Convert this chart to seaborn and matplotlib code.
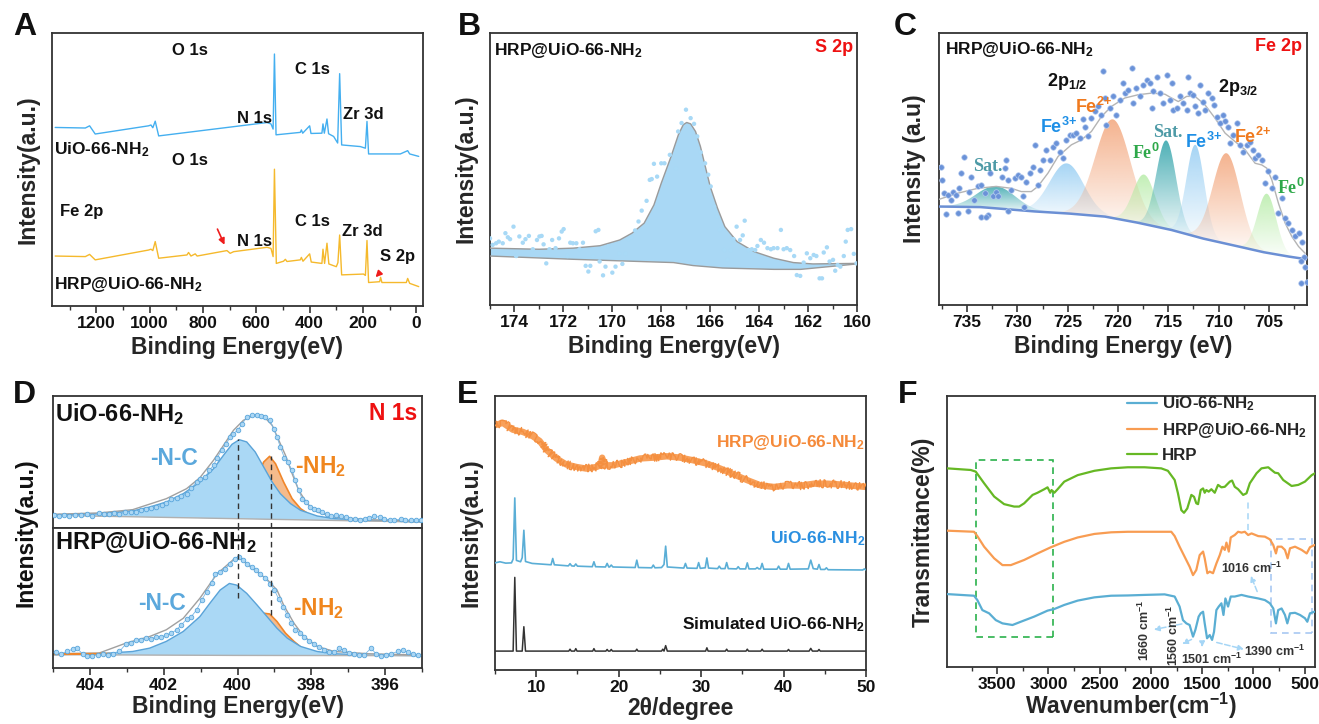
import numpy as np
import matplotlib
matplotlib.use("Agg")
import matplotlib.pyplot as plt
import seaborn as sns
from matplotlib.colors import to_rgb
from matplotlib.patches import Rectangle
from matplotlib.ticker import MultipleLocator

# ---------------- A: XPS survey ----------------
a_uio_ev = [1354, 1241, 1225, 1204, 1004, 995, 988, 979, 966, 560, 545, 537, 532, 526, 435, 431, 426, 400, 395,
            354, 350, 345, 335, 329, 310, 295, 287.5, 280, 210, 191, 185, 179, 60, 32.5, 25, -9]
a_uio_int = [65.4, 65.2, 66.0, 63.0, 66.0, 66.3, 65.3, 67.7, 62.3, 67.2, 66.7, 64.8, 92.3, 62.7, 63.6, 64.5, 63.3,
             66.0, 63.2, 63.3, 66.7, 63.3, 68.5, 63.1, 62.1, 59.7, 85.1, 59.0, 58.4, 57.8, 67.6, 55.7, 55.7, 56.9,
             55.7, 54.8]
a_hrp_ev = [1354, 1241, 1225, 1204, 1004, 995, 988, 979, 966, 860, 854, 845, 829, 822, 710, 698, 685, 560, 545, 537,
            532, 525, 498, 491, 485, 435, 431, 425, 400, 394, 354, 350, 344, 335, 328, 300, 294, 287.5, 280, 198,
            191, 185, 179, 137.5, 134, 129, 37.5, 32.5, 25, -9]
a_hrp_int = [18.3, 18.1, 18.9, 16.9, 20.5, 20.8, 20.3, 23.6, 17.5, 18.7, 19.6, 18.3, 19.1, 18.3, 20.3, 19.3, 19.9,
             21.5, 21.1, 18.1, 50.1, 15.6, 16.4, 17.1, 16.3, 16.9, 17.8, 16.4, 19.1, 16.1, 15.6, 20.8, 15.6, 23.0,
             15.4, 14.4, 15.9, 26.0, 11.4, 11.7, 11.2, 24.0, 8.6, 8.9, 10.5, 8.6, 8.6, 10.1, 8.3, 7.1]

# ---------------- B: S 2p ----------------
b_env_ev = [175.0, 173.0, 171.6, 170.5, 169.7, 169.2, 168.7, 168.3, 168.0, 167.6, 167.3, 167.1, 166.96, 166.8,
            166.6, 166.4, 166.2, 166.0, 165.7, 165.4, 164.9, 164.2, 163.4, 162.6, 161.8, 160.0]
b_env_int = [20.9, 20.5, 20.9, 21.8, 23.9, 26.4, 30.1, 36.8, 44.8, 54.6, 62.6, 66.3, 67.1, 66.6, 63.8, 58.3, 50.9,
             43.6, 35.6, 28.8, 23.3, 19.6, 17.2, 15.6, 15.1, 15.3]
b_bg_ev = [175.0, 171.6, 168.9, 167.5, 166.7, 165.5, 163.4, 162.3, 160.0]
b_bg_int = [18.0, 16.8, 16.0, 15.6, 14.5, 13.6, 13.1, 13.1, 15.1]
b_dot_ev = [175.0, 174.89, 174.75, 174.64, 174.48, 174.37, 174.27, 174.18, 174.04, 173.93,
            173.80, 173.66, 173.55, 173.41, 173.25, 173.08, 172.98, 172.89, 172.81, 172.70,
            172.57, 172.46, 172.32, 172.18, 172.07, 171.99, 171.83, 171.72, 171.61, 171.47,
            171.34, 171.20, 171.09, 170.98, 170.90, 170.79, 170.68, 170.57, 170.52, 170.38,
            170.28, 170.17, 170.0, 169.87, 169.72, 169.59, 169.45, 169.34, 169.23, 169.07,
            168.93, 168.80, 168.60, 168.47, 168.39, 168.30, 168.17, 168.0, 167.87, 167.65,
            167.40, 167.31, 167.17, 166.99, 166.80, 166.66, 166.53, 166.39, 166.21, 166.08,
            165.98, 165.84, 165.73, 165.60, 165.43, 165.30, 165.16, 165.05, 164.92, 164.78,
            164.67, 164.59, 164.44, 164.30, 164.16, 164.07, 163.93, 163.80, 163.66, 163.52,
            163.41, 163.25, 163.11, 163.0, 162.87, 162.73, 162.57, 162.46, 162.32, 162.18,
            162.05, 161.91, 161.77, 161.66, 161.53, 161.43, 161.36, 161.23, 161.12, 160.98,
            160.89, 160.79, 160.68, 160.54, 160.46, 160.38, 160.24, 160.13, 160.02]
b_dot_int = [24.5, 22.1, 22.7, 23.3, 22.7, 26.4, 24.9, 24.2, 28.8, 18.0,
             25.2, 22.9, 24.2, 25.4, 20.5, 23.9, 25.2, 25.4, 22.3, 15.3,
             20.5, 23.9, 20.9, 24.5, 27.0, 27.9, 18.0, 22.9, 22.7, 22.7,
             20.5, 22.9, 14.4, 12.3, 14.4, 17.8, 27.1, 27.6, 16.0, 10.9,
             14.1, 21.5, 11.9, 14.1, 19.0, 15.1, 18.8, 24.2, 24.9, 27.4,
             30.7, 34.7, 38.3, 46.0, 46.3, 51.9, 47.2, 52.1, 52.1, 55.2,
             50.3, 63.8, 66.9, 71.8, 68.7, 66.6, 62.0, 56.1, 52.1, 47.9,
             43.6, 36.2, 32.5, 27.6, 20.2, 16.6, 20.0, 24.2, 28.8, 23.9,
             25.6, 31.0, 20.2, 20.5, 20.2, 21.7, 23.9, 22.9, 20.9, 20.5,
             20.9, 20.9, 27.6, 20.5, 20.9, 20.2, 18.0, 11.0, 10.7, 15.6,
             19.0, 17.2, 18.4, 18.0, 9.8, 9.8, 19.3, 21.2, 16.0, 16.6,
             12.6, 14.7, 14.1, 18.0, 23.3, 27.6, 27.9, 18.8, 15.3]

# ---------------- C: Fe 2p ----------------
c_bg_ev = [737.8, 733.7, 728.3, 724.8, 721.3, 718.1, 714.7, 711.5, 708.0, 705.5, 703.0, 701.2]
c_bg_int = [36.2, 36.0, 34.4, 33.6, 32.5, 30.3, 27.6, 24.4, 21.5, 19.4, 17.8, 16.8]
c_env_ev = [737.92, 735.93, 733.94, 732.11, 730.61, 729.62, 728.62, 727.96, 726.96, 725.96, 724.63, 723.64,
            722.64, 721.64, 720.65, 719.32, 717.99, 716.66, 715.33, 714.67, 714.00, 713.17, 712.34, 711.35,
            710.35, 709.35, 708.36, 707.36, 706.36, 705.70, 705.20, 704.70, 704.04, 703.37, 702.71, 702.04,
            701.38]
c_env_int = [38.7, 41.1, 42.9, 43.6, 42.9, 41.7, 41.7, 43.6, 48.5, 54.6, 58.9, 60.7, 63.8, 69.3, 73.0, 76.1, 77.3,
             77.9, 77.5, 76.1, 74.8, 76.7, 76.7, 73.6, 68.7, 63.2, 60.1, 57.1, 52.1, 51.5, 50.3, 46.0, 37.4, 30.1,
             25.2, 21.5, 19.0]
# fitted components: centre (eV), height above background, FWHM (eV)
c_peak_names = ["Sat.", "Fe3+", "Fe2+", "Fe0", "Sat.", "Fe3+", "Fe2+", "Fe0"]
c_peak_center = [732.1, 725.1, 720.5, 717.4, 715.2, 712.3, 709.2, 705.2]
c_peak_height = [8.1, 18.4, 36.3, 18.2, 32.5, 33.7, 33.3, 21.7]
c_peak_fwhm = [4.5, 4.0, 4.1, 2.6, 2.3, 2.1, 3.2, 2.2]
c_dot_ev = [737.59, 737.52, 737.26, 736.93, 736.59, 736.43, 736.10, 735.86, 735.60, 735.27,
            734.77, 734.60, 734.27, 733.94, 733.60, 733.27, 732.94, 732.77, 732.44, 732.11,
            731.94, 731.54, 731.28, 731.11, 730.95, 730.61, 730.28, 729.95, 729.68, 729.45,
            729.12, 728.79, 728.46, 728.29, 727.96, 727.79, 727.46, 727.13, 726.79, 726.46,
            726.13, 725.80, 725.47, 725.13, 724.80, 724.47, 724.14, 723.80, 723.47, 723.31,
            722.97, 722.64, 722.31, 721.98, 721.64, 721.48, 721.31, 721.15, 720.81, 720.48,
            720.15, 719.82, 719.49, 719.32, 718.99, 718.65, 718.49, 718.16, 717.82, 717.49,
            717.16, 716.83, 716.66, 716.50, 716.16, 715.83, 715.50, 715.17, 714.83, 714.67,
            714.50, 714.17, 713.84, 713.50, 713.17, 713.01, 712.84, 712.51, 712.34, 712.01,
            711.84, 711.51, 711.35, 711.01, 710.68, 710.42, 710.18, 709.85, 709.52, 709.35,
            709.02, 708.85, 708.52, 708.19, 707.86, 707.52, 707.19, 706.86, 706.53, 706.36,
            706.03, 705.70, 705.37, 705.03, 704.70, 704.37, 704.04, 703.70, 703.37, 703.04,
            702.71, 702.38, 702.04, 701.71, 701.54, 701.38, 701.21,
            737.1, 735.9, 734.9, 733.6, 730.9, 729.3, 733.1, 701.8, 701.8]
c_dot_int = [50.7, 46.0, 41.1, 40.5, 38.7, 41.7, 40.5, 42.9, 48.5, 54.4,
             41.7, 47.2, 38.7, 43.6, 44.2, 41.1, 33.1, 48.5, 39.9, 41.7,
             39.9, 47.2, 50.3, 53.4, 46.0, 42.3, 46.6, 47.9, 47.2, 39.9,
             45.4, 48.5, 50.9, 58.9, 44.2, 49.7, 53.4, 57.1, 53.4, 58.0,
             59.5, 56.4, 54.0, 60.7, 62.6, 62.6, 63.4, 61.3, 68.3, 65.6,
             62.0, 68.7, 71.2, 73.0, 69.9, 85.9, 76.1, 66.3, 72.4, 76.7,
             69.9, 75.5, 81.6, 77.9, 79.1, 87.1, 74.2, 79.8, 76.7, 81.0,
             82.8, 81.6, 72.4, 78.5, 84.0, 77.9, 74.2, 84.7, 75.5, 81.6,
             71.8, 72.4, 76.7, 74.2, 71.8, 84.0, 77.9, 77.3, 73.0, 70.6,
             81.0, 74.8, 71.8, 77.9, 76.1, 73.6, 69.3, 66.9, 69.9, 67.5,
             65.6, 59.5, 62.6, 66.9, 58.9, 56.4, 58.9, 60.1, 57.1, 54.0,
             55.2, 53.4, 44.8, 49.1, 42.9, 47.2, 33.7, 39.3, 31.9, 30.1,
             27.6, 25.2, 26.4, 23.3, 17.8, 14.1, 8.6,
             33.5, 34.0, 34.4, 32.5, 34.4, 36.0, 32.5, 16.0, 8.0]

# ---------------- D: N 1s ----------------
d1_bg_ev = [405.02, 400.11, 394.97]
d1_bg_int = [9.6, 7.1, 4.5]
d1_nc_ev = [405.02, 403.75, 402.84, 402.38, 401.93, 401.47, 401.02, 400.65, 400.38, 400.15, 399.95, 399.75, 399.52,
            399.29, 399.06, 398.84, 398.56, 398.29, 397.84, 397.38, 396.47, 394.97]
d1_nc_int = [9.6, 10.9, 12.9, 15.9, 19.7, 26.0, 34.8, 44.9, 55.1, 63.4, 66.9, 65.2, 57.6, 46.2, 34.8, 26.0, 18.4,
             13.4, 9.1, 7.1, 5.8, 4.5]
d1_nh_ev = [400.11, 399.75, 399.47, 399.29, 399.13, 398.97, 398.75, 398.52, 398.29, 398.02, 397.65]
d1_nh_int = [7.6, 17.2, 38.6, 50.0, 54.3, 48.7, 34.8, 22.2, 14.6, 9.6, 7.1]
d1_env_ev = [405.02, 403.75, 402.84, 401.93, 401.38, 401.02, 400.65, 400.38, 400.11, 399.84, 399.56, 399.29,
             399.06, 398.88, 398.70, 398.52, 398.34, 398.11, 397.84, 397.38, 396.47, 394.97]
d1_env_int = [10.4, 11.4, 13.9, 22.2, 29.8, 38.1, 51.3, 62.6, 74.0, 81.6, 85.4, 84.6, 77.8, 66.4, 55.1, 41.2, 28.5,
              18.4, 12.1, 8.3, 6.3, 5.3]
d1_dot_ev = [404.97, 404.84, 404.70, 404.56, 404.40, 404.25, 404.09, 403.93, 403.75, 403.61, 403.47, 403.34,
             403.20, 403.04, 402.88, 402.75, 402.61, 402.47, 402.34, 402.20, 402.04, 401.93, 401.79, 401.65,
             401.52, 401.38, 401.25, 401.11, 401.02, 400.88, 400.76, 400.65, 400.55, 400.43, 400.31, 400.20,
             400.11, 400.0, 399.88, 399.75, 399.61, 399.47, 399.36, 399.25, 399.13, 399.02, 398.93, 398.84,
             398.73, 398.64, 398.52, 398.43, 398.34, 398.25, 398.15, 398.04, 397.93, 397.82, 397.70, 397.58,
             397.47, 397.34, 397.20, 397.06, 396.95, 396.82, 396.67, 396.55, 396.43, 396.29, 396.15, 396.02,
             395.88, 395.75, 395.58, 395.45, 395.31, 395.15, 395.04]
d1_dot_int = [9.6, 9.3, 9.8, 9.1, 10.1, 9.6, 10.4, 9.3, 11.4, 10.9, 10.4, 11.4,
              10.9, 11.9, 12.4, 12.1, 13.4, 14.4, 15.4, 15.9, 17.4, 18.9, 22.2, 23.0,
              24.0, 26.0, 30.6, 34.8, 37.4, 38.6, 43.7, 47.5, 53.3, 58.8, 63.4, 68.9,
              71.5, 74.0, 78.5, 84.1, 85.4, 85.9, 85.1, 84.1, 81.6, 75.3, 68.9, 61.4,
              53.3, 50.0, 43.7, 36.1, 28.5, 22.2, 19.7, 15.9, 14.6, 13.4, 12.1, 10.4,
              8.8, 9.8, 8.8, 8.3, 6.6, 7.1, 6.3, 7.1, 7.8, 8.8, 8.3, 6.8,
              6.3, 5.8, 6.8, 6.3, 5.8, 6.3, 5.8]

d2_bg_ev = [405.02, 400.11, 394.97]
d2_bg_int = [9.5, 9.0, 8.8]
d2_nc_ev = [405.02, 403.75, 402.84, 402.38, 401.93, 401.47, 401.02, 400.75, 400.47, 400.22, 400.02, 399.75, 399.47,
            399.20, 398.93, 398.65, 398.29, 397.84, 397.38, 396.47, 394.97]
d2_nc_int = [9.5, 10.2, 11.8, 14.2, 19.0, 26.1, 36.7, 46.2, 55.7, 60.4, 59.2, 53.3, 45.0, 36.7, 28.4, 21.3, 15.4,
             11.8, 10.2, 9.2, 8.8]
d2_nh_ev = [400.11, 399.75, 399.47, 399.29, 399.13, 398.93, 398.70, 398.47, 398.25, 397.93, 397.56]
d2_nh_int = [10.2, 20.1, 35.5, 39.1, 38.6, 33.2, 24.9, 19.0, 14.2, 10.7, 9.5]
d2_nh_tail_ev = [405.0, 403.47]
d2_nh_tail_int = [9.9, 10.2]
d2_env_ev = [405.02, 403.75, 403.02, 402.38, 401.93, 401.47, 401.02, 400.56, 400.11, 399.93, 399.65, 399.20,
             398.93, 398.75, 398.47, 398.20, 397.84, 397.38, 396.47, 394.97]
d2_env_int = [10.2, 10.7, 17.8, 22.5, 27.3, 35.5, 49.8, 67.1, 77.5, 78.2, 72.3, 63.3, 55.7, 45.0, 32.0, 22.5, 15.4,
              11.8, 10.2, 9.2]
d2_dot_ev = [404.93, 404.79, 404.61, 404.47, 404.36, 404.20, 404.09, 403.95, 403.79, 403.65, 403.52, 403.38,
             403.20, 403.02, 402.88, 402.75, 402.61, 402.47, 402.34, 402.20, 402.06, 401.93, 401.79, 401.65,
             401.52, 401.38, 401.25, 401.11, 400.97, 400.84, 400.70, 400.61, 400.47, 400.34, 400.20, 400.06,
             399.97, 399.85, 399.73, 399.61, 399.49, 399.38, 399.25, 399.11, 399.0, 398.88, 398.76, 398.65,
             398.55, 398.43, 398.31, 398.20, 398.06, 397.93, 397.79, 397.65, 397.52, 397.38, 397.25, 397.11,
             396.97, 396.84, 396.70, 396.56, 396.38, 396.25, 396.11, 395.97, 395.84, 395.65, 395.52, 395.38,
             395.25, 395.11]
d2_dot_int = [11.1, 10.2, 11.8, 13.5, 14.2, 10.2, 8.3, 8.8, 9.5, 10.2, 9.5, 10.2,
              11.8, 17.3, 18.2, 19.7, 20.1, 21.3, 20.6, 22.5, 22.0, 23.7, 24.9, 27.3,
              30.8, 34.8, 36.7, 41.5, 48.6, 54.5, 60.4, 67.5, 68.7, 70.4, 74.6, 78.2,
              79.4, 77.5, 74.6, 72.3, 69.9, 67.1, 64.0, 60.0, 55.7, 49.1, 43.4, 37.9,
              32.5, 27.3, 24.9, 22.5, 19.0, 17.3, 14.9, 13.0, 11.1, 11.1, 14.2, 12.6,
              10.7, 10.2, 9.2, 9.5, 14.2, 10.2, 8.8, 9.5, 10.2, 11.8, 12.6, 11.1,
              10.2, 9.2]
d_nc_peak = 400.0    # dashed guide lines (eV)
d_nh_peak = 399.1

# ---------------- E: XRD ----------------
e_hrp_2t = [4.92, 5.94, 7.16, 8.38, 9.59, 10.41, 11.22, 12.44, 13.65, 14.87, 16.09, 17.31, 17.80, 18.00, 18.20,
            19.34, 20.96, 22.59, 24.21, 25.84, 27.46, 29.09, 30.71, 32.34, 33.96, 35.58, 37.21, 38.83, 40.46,
            42.08, 43.71, 45.33, 46.95, 48.58, 50.0]
e_hrp_int = [89.3, 90.2, 87.7, 86.9, 85.3, 83.6, 80.4, 77.2, 75.0, 74.1, 73.5, 74.1, 74.7, 77.5, 74.7, 74.7, 75.9,
             77.2, 77.5, 78.0, 77.5, 76.5, 75.3, 73.5, 71.4, 69.3, 67.4, 66.8, 67.4, 67.3, 68.0, 68.0, 67.7, 67.2,
             66.8]
e_uio_2t = [5.0, 5.6, 6.3, 7.0, 7.2, 7.4, 7.6, 8.1, 8.3, 8.5, 8.7, 9.5, 11.8, 12.0, 12.2, 13.9, 14.1, 14.3, 14.6,
            14.8, 15.0, 16.8, 17.0, 17.2, 18.4, 18.6, 18.8, 18.9, 19.1, 19.3, 22.0, 22.2, 22.4, 24.0, 24.2, 24.4,
            25.2, 25.5, 25.7, 25.9, 27.9, 28.1, 28.3, 29.5, 29.7, 29.9, 30.5, 30.7, 30.9, 32.0, 32.2, 32.4, 32.9,
            33.1, 33.3, 34.3, 34.5, 34.7, 35.4, 35.6, 35.8, 36.6, 36.8, 37.0, 37.2, 37.4, 37.6, 39.2, 39.4, 39.6,
            40.4, 40.6, 40.8, 43.0, 43.3, 43.6, 44.1, 44.3, 44.5, 45.0, 45.2, 45.4, 49.6, 49.8, 50.0]
e_uio_int = [39.1, 39.5, 39.0, 39.1, 40.5, 62.8, 40.0, 39.5, 41.0, 51.0, 39.6, 38.9, 38.4, 40.7, 38.4, 38.0, 38.8,
             38.0, 37.9, 38.7, 37.9, 37.7, 39.5, 37.7, 37.6, 38.9, 37.6, 37.6, 38.3, 37.6, 37.4, 40.1, 37.4, 37.3,
             38.3, 37.3, 37.4, 38.5, 45.2, 37.6, 37.2, 38.9, 37.2, 37.1, 39.2, 37.1, 37.3, 40.9, 37.2, 37.0, 37.9,
             37.0, 37.0, 39.2, 37.0, 36.9, 37.7, 36.9, 36.9, 39.1, 36.9, 36.9, 37.4, 36.9, 36.9, 38.9, 36.8, 36.8,
             37.9, 36.8, 36.8, 38.9, 36.8, 36.9, 40.1, 37.0, 36.8, 38.5, 36.7, 36.7, 37.3, 36.6, 36.5, 36.9, 36.5]
e_sim_2t = [5.0, 7.2, 7.4, 7.6, 8.3, 8.5, 8.7, 13.95, 14.1, 14.25, 14.65, 14.8, 14.95, 16.85, 17.0, 17.15, 18.45,
            18.6, 18.75, 18.95, 19.1, 19.25, 22.05, 22.2, 22.35, 25.2, 25.35, 25.5, 25.7, 25.9, 30.55, 30.7, 30.85,
            32.95, 33.1, 33.25, 35.45, 35.6, 35.75, 37.25, 37.4, 37.55, 40.45, 40.6, 40.75, 43.1, 43.3, 43.5,
            44.15, 44.3, 44.45, 50.0]
e_sim_int = [6.9, 6.9, 33.8, 6.9, 6.9, 15.8, 6.9, 6.9, 7.6, 6.9, 6.9, 7.8, 6.9, 6.9, 7.8, 6.9, 6.9,
             7.5, 6.9, 6.9, 7.5, 6.9, 6.9, 7.6, 6.9, 6.9, 7.6, 6.9, 8.9, 6.9, 6.9, 8.1, 6.9,
             6.9, 7.6, 6.9, 6.9, 7.6, 6.9, 6.9, 7.6, 6.9, 6.9, 7.5, 6.9, 6.9, 7.9, 6.9,
             6.9, 7.5, 6.9, 6.9]

# ---------------- F: FTIR ----------------
f_hrp_wn = [3987, 3759, 3710, 3628, 3530, 3433, 3335, 3286, 3237, 3155, 3107, 3041, 3009, 2983, 2970, 2943, 2911,
            2846, 2715, 2552, 2389, 2226, 2063, 1900, 1835, 1769, 1737, 1704, 1678, 1646, 1606, 1580, 1558, 1541,
            1515, 1492, 1476, 1460, 1437, 1411, 1378, 1346, 1313, 1280, 1231, 1209, 1183, 1150, 1101, 1068, 1036,
            970, 922, 856, 824, 791, 759, 710, 628, 563, 498, 432, 400]
f_hrp_t = [73.3, 72.7, 72.1, 67.8, 62.9, 60.1, 59.2, 59.2, 60.4, 63.5, 64.3, 65.6, 66.3, 64.3, 65.3, 64.3, 65.6,
           68.4, 70.8, 72.4, 73.3, 73.7, 73.7, 73.3, 72.4, 69.0, 64.1, 57.9, 56.9, 58.5, 63.5, 62.8, 60.4, 60.1,
           65.3, 65.9, 64.3, 65.3, 64.7, 65.6, 64.3, 67.2, 66.3, 66.5, 68.4, 68.8, 66.5, 65.6, 63.5, 64.1, 67.8,
           71.5, 73.3, 73.7, 72.7, 71.7, 71.5, 69.0, 66.8, 67.2, 68.4, 70.8, 71.5]
f_mix_wn = [3987, 3726, 3694, 3628, 3530, 3449, 3367, 3237, 3107, 2976, 2846, 2715, 2552, 2389, 2226, 2063, 1900,
            1802, 1769, 1721, 1672, 1623, 1590, 1558, 1525, 1492, 1476, 1450, 1427, 1395, 1362, 1329, 1303, 1280,
            1264, 1241, 1222, 1183, 1150, 1117, 1085, 1052, 1019, 954, 889, 840, 807, 781, 765, 726, 693, 667, 644,
            595, 530, 481, 449, 406]
f_mix_t = [50.3, 49.9, 48.3, 44.4, 40.1, 37.6, 37.6, 39.5, 41.9, 44.2, 46.2, 47.8, 49.1, 49.7, 49.9, 49.9, 49.9,
           49.9, 48.3, 44.4, 40.7, 37.0, 33.9, 35.8, 41.3, 42.6, 40.1, 34.6, 35.2, 34.6, 38.2, 41.3, 44.4, 43.2,
           45.9, 42.6, 47.8, 48.7, 49.9, 49.6, 49.9, 48.7, 49.3, 48.3, 48.1, 47.1, 45.0, 41.9, 44.4, 44.4, 43.2,
           40.1, 43.8, 44.4, 43.2, 41.9, 44.2, 45.0]
f_uio_wn = [3987, 3726, 3694, 3645, 3579, 3514, 3449, 3351, 3270, 3139, 3009, 2943, 2846, 2715, 2552, 2389, 2226,
            2063, 1867, 1769, 1721, 1688, 1655, 1623, 1590, 1567, 1535, 1515, 1492, 1476, 1453, 1427, 1404, 1385,
            1362, 1339, 1313, 1293, 1274, 1248, 1222, 1183, 1117, 1052, 954, 889, 840, 807, 781, 759, 726, 693,
            670, 644, 595, 546, 498, 475, 449, 406]
f_uio_t = [26.9, 26.3, 24.7, 21.0, 19.8, 17.3, 16.1, 15.5, 16.7, 18.6, 20.8, 21.4, 22.9, 24.5, 25.7, 26.3, 26.4,
           26.6, 26.8, 26.0, 22.3, 17.3, 16.1, 15.5, 11.2, 13.7, 18.6, 19.8, 20.4, 16.1, 10.6, 11.8, 10.0, 13.0,
           21.0, 22.3, 23.5, 19.2, 25.3, 22.3, 26.0, 26.0, 26.6, 26.0, 25.3, 24.7, 23.5, 21.6, 16.1, 21.0, 21.6,
           19.2, 16.1, 19.8, 20.0, 19.2, 18.0, 16.7, 19.8, 20.4]

# ---------------- styling ----------------
sns.set_theme(style="ticks")
plt.rcParams["font.family"] = ["Liberation Sans", "DejaVu Sans"]
plt.rcParams["font.weight"] = "bold"
plt.rcParams["axes.labelweight"] = "bold"
plt.rcParams["mathtext.fontset"] = "custom"
plt.rcParams["mathtext.rm"] = "Liberation Sans:bold"
plt.rcParams["mathtext.it"] = "Liberation Sans:bold:italic"
plt.rcParams["mathtext.bf"] = "Liberation Sans:bold"
plt.rcParams["mathtext.sf"] = "Liberation Sans:bold"
plt.rcParams["mathtext.default"] = "rm"

W, H = 1319, 724
fig = plt.figure(figsize=(W / 100, H / 100), dpi=100)


def box(left, top, right, bottom):
    return fig.add_axes([left / W, 1 - bottom / H, (right - left) / W, (bottom - top) / H])


def frame(ax, xlim, major, minor, xlabel=None, ylabel=None, labels=True, xpad=3):
    ax.set_xlim(*xlim)
    ax.set_ylim(0, 100)
    ax.set_yticks([])
    ax.xaxis.set_major_locator(MultipleLocator(major))
    ax.xaxis.set_minor_locator(MultipleLocator(minor))
    ax.tick_params(axis="x", which="major", direction="out", length=5, width=1.2, pad=2.5,
                   labelsize=12.5, labelcolor="#111111", color="#333333", labelbottom=labels)
    ax.tick_params(axis="x", which="minor", direction="out", length=3, width=1.0, color="#333333")
    for sp in ax.spines.values():
        sp.set_visible(True)
        sp.set_linewidth(1.3)
        sp.set_color("#333333")
    if xlabel:
        ax.set_xlabel(xlabel, fontsize=16.5, labelpad=xpad)
    if ylabel:
        ax.set_ylabel(ylabel, fontsize=16.5, labelpad=9)


def line(ax, x, y, color, lw=1.0, z=3, **kw):
    sns.lineplot(x=x, y=y, ax=ax, color=color, lw=lw, sort=False, estimator=None, zorder=z, **kw)
    return ax.lines[-1]


def gradient_peak(ax, xs, base, top, color, a_top=0.8, a_bot=0.0):
    poly = ax.fill_between(xs, base, top, facecolor="none", edgecolor="none")
    grad = np.zeros((120, 1, 4))
    grad[..., :3] = to_rgb(color)
    grad[..., 3] = np.linspace(a_top, a_bot, 120)[:, None]
    im = ax.imshow(grad, aspect="auto", origin="upper", zorder=1.5,
                   extent=[xs.min(), xs.max(), base.min(), top.max()])
    im.set_clip_path(poly.get_paths()[0], transform=ax.transData)


# ---------------- A ----------------
axA = box(52, 33, 423, 306)
line(axA, a_uio_ev, a_uio_int, "#44aff0", 1.0)
line(axA, a_hrp_ev, a_hrp_int, "#f5b92c", 1.0)
for txt, x, y in [("O 1s", 847, 93.6), ("C 1s", 388, 86.6), ("N 1s", 607, 68.8), ("Zr 3d", 197, 70.0),
                  ("O 1s", 847, 53.3), ("Fe 2p", 1254, 34.6), ("C 1s", 388, 30.9), ("N 1s", 607, 23.6),
                  ("Zr 3d", 204, 27.3), ("S 2p", 72, 18.3)]:
    axA.text(x, y, txt, ha="center", va="center", fontsize=12, color="#111111")
axA.text(1360, 57.2, "UiO-66-NH$_2$", ha="left", va="center", fontsize=12.5, color="#111111")
axA.text(1360, 7.7, "HRP@UiO-66-NH$_2$", ha="left", va="center", fontsize=12.5, color="#111111")
for tail, head in [((750, 29.1), (715, 21.5)), ((131, 12.8), (160, 9.8))]:
    axA.annotate("", xy=head, xytext=tail,
                 arrowprops=dict(arrowstyle="-|>", color="#ee1c1c", lw=1.2, mutation_scale=9))
frame(axA, (1366, -25), 200, 100, "Binding Energy(eV)", "Intensity(a.u.)")

# ---------------- B ----------------
axB = box(490, 33, 857, 305)
axB.fill(np.r_[b_env_ev, b_bg_ev[::-1]], np.r_[b_env_int, b_bg_int[::-1]], color="#a9d8f5", lw=0, zorder=2)
line(axB, b_env_ev, b_env_int, "#9a9a9a", 1.0)
line(axB, b_bg_ev, b_bg_int, "#9a9a9a", 1.0)
sns.scatterplot(x=b_dot_ev, y=b_dot_int, ax=axB, color="#a8d9f6", s=10, edgecolor="none", zorder=4)
axB.text(0.01, 0.935, "HRP@UiO-66-NH$_2$", transform=axB.transAxes, ha="left", va="center", fontsize=12.5,
         color="#111111")
axB.text(0.99, 0.945, "S 2p", transform=axB.transAxes, ha="right", va="center", fontsize=13, color="#ee1111")
frame(axB, (175, 160), 2, 1, "Binding Energy(eV)", "Intensity(a.u.)")

# ---------------- C ----------------
axC = box(939, 33, 1307, 305)
peak_colors = {"Sat.": "#3aa7ae", "Fe3+": "#8fcaf2", "Fe2+": "#f2a073", "Fe0": "#b3eba3"}
bg_x = np.array(c_bg_ev[::-1])
bg_y = np.array(c_bg_int[::-1])
for name, c, h, w in zip(c_peak_names, c_peak_center, c_peak_height, c_peak_fwhm):
    xs = np.linspace(c - 1.8 * w, c + 1.8 * w, 200)
    base = np.interp(xs, bg_x, bg_y)
    top = base + h * np.exp(-4 * np.log(2) * ((xs - c) / w) ** 2)
    a_top = 0.9 if name == "Sat." else 0.8
    gradient_peak(axC, xs, base, top, peak_colors[name], a_top=a_top, a_bot=0.03)
line(axC, c_env_ev, c_env_int, "#b4b4b4", 1.0, z=3)
line(axC, c_bg_ev, c_bg_int, "#6b8fd4", 1.8, z=3)
sns.scatterplot(x=c_dot_ev, y=c_dot_int, ax=axC, color="#6a92d8", s=16, edgecolor="#b8cdf0", linewidth=0.5,
                zorder=4)
axC.text(0.015, 0.94, "HRP@UiO-66-NH$_2$", transform=axC.transAxes, ha="left", va="center", fontsize=12.5,
         color="#111111")
axC.text(0.987, 0.95, "Fe 2p", transform=axC.transAxes, ha="right", va="center", fontsize=13, color="#ee1111")
axC.text(725.1, 82.1, "2p$_{1/2}$", ha="center", va="center", fontsize=13, color="#111111", zorder=5)
axC.text(708.1, 79.9, "2p$_{3/2}$", ha="center", va="center", fontsize=13, color="#111111", zorder=5)
serif = ["Liberation Serif", "DejaVu Serif"]
for txt, x, y, col, fam in [("Fe$^{3{+}}$", 725.9, 65.5, "#1e8fe6", None),
                            ("Fe$^{2{+}}$", 722.4, 72.9, "#f07a1e", None),
                            ("Sat.", 733.0, 50.8, "#4d9aa6", serif), ("Fe$^0$", 717.2, 56.0, "#2ea84a", serif),
                            ("Sat.", 715.0, 63.3, "#4d9aa6", serif), ("Fe$^{3{+}}$", 711.5, 60.0, "#1e8fe6", None),
                            ("Fe$^{2{+}}$", 706.6, 61.8, "#f07a1e", None), ("Fe$^0$", 702.8, 43.1, "#2ea84a", serif)]:
    kw = {"family": fam} if fam else {}
    axC.text(x, y, txt, ha="center", va="center", fontsize=13, color=col, zorder=5, **kw)
frame(axC, (737.8, 701.2), 5, 2.5, "Binding Energy (eV)", "Intensity (a.u)")

# ---------------- D ----------------
nc_fill, nc_edge = "#aad8f5", "#5aa3d8"
nh_fill, nh_edge = "#f5bb8c", "#f0862a"
axD1 = box(53, 396, 422, 528)
axD2 = box(53, 528, 422, 668)
for ax, bg_e, bg_i, nc_e, nc_i, nh_e, nh_i, env_e, env_i, dot_e, dot_i in [
        (axD1, d1_bg_ev, d1_bg_int, d1_nc_ev, d1_nc_int, d1_nh_ev, d1_nh_int, d1_env_ev, d1_env_int,
         d1_dot_ev, d1_dot_int),
        (axD2, d2_bg_ev, d2_bg_int, d2_nc_ev, d2_nc_int, d2_nh_ev, d2_nh_int, d2_env_ev, d2_env_int,
         d2_dot_ev, d2_dot_int)]:
    ax.fill(np.r_[nh_e, bg_e[::-1]], np.r_[nh_i, bg_i[::-1]], color=nh_fill, lw=0, zorder=1.5)
    line(ax, nh_e, nh_i, nh_edge, 1.2, z=1.6)
    ax.fill(np.r_[nc_e, bg_e[::-1]], np.r_[nc_i, bg_i[::-1]], color=nc_fill, lw=0, zorder=2)
    line(ax, nc_e, nc_i, nc_edge, 1.0, z=2.1)
    line(ax, bg_e, bg_i, "#b0b0b0", 1.0, z=2.2)
    line(ax, env_e, env_i, "#a0a0a0", 1.0, z=2.3)
    line(ax, dot_e, dot_i, "#7cb8e4", 0.6, z=3, marker="o", markersize=3.3, markeredgecolor="#5aa6dc",
         markeredgewidth=0.6, markerfacecolor="#acd7f4")
line(axD2, d2_nh_tail_ev, d2_nh_tail_int, nh_edge, 1.5, z=2.4)
dash = (0, (4, 3))
axD1.vlines(d_nc_peak, 0, 67.5, colors="#333333", linestyles=dash, lw=1.0, zorder=4)
axD1.vlines(d_nh_peak, 0, 54.3, colors="#333333", linestyles=dash, lw=1.0, zorder=4)
axD2.vlines(d_nc_peak, 49.8, 100, colors="#333333", linestyles=dash, lw=1.0, zorder=4)
axD2.vlines(d_nh_peak, 37.9, 100, colors="#333333", linestyles=dash, lw=1.0, zorder=4)
axD1.text(0.005, 0.866, "UiO-66-NH$_2$", transform=axD1.transAxes, ha="left", va="center", fontsize=17,
          color="#111111")
axD1.text(0.986, 0.866, "N 1s", transform=axD1.transAxes, ha="right", va="center", fontsize=16.5,
          color="#ee1111")
axD1.text(401.73, 52.5, "-N-C", ha="center", va="center", fontsize=16.5, color="#5ba8dc", zorder=5)
axD1.text(397.75, 46.2, "-NH$_2$", ha="center", va="center", fontsize=16.5, color="#f0861e", zorder=5)
axD2.text(0.005, 0.90, "HRP@UiO-66-NH$_2$", transform=axD2.transAxes, ha="left", va="center", fontsize=17,
          color="#111111")
axD2.text(402.05, 46.2, "-N-C", ha="center", va="center", fontsize=16.5, color="#5ba8dc", zorder=5)
axD2.text(397.79, 42.7, "-NH$_2$", ha="center", va="center", fontsize=16.5, color="#f0861e", zorder=5)
frame(axD1, (405, 395), 2, 1, labels=False)
axD1.tick_params(axis="x", which="both", length=0)
frame(axD2, (405, 395), 2, 1, "Binding Energy(eV)", xpad=1)
fig.text(26 / W, 1 - 533 / H, "Intensity(a.u.)", rotation=90, ha="center", va="center", fontsize=16.5,
         color="#111111")

# ---------------- E ----------------
axE = box(495, 396, 866, 670)
line(axE, e_hrp_2t, e_hrp_int, "#f8a05a", 4.6, z=2.5)
fuzz = line(axE, e_hrp_2t, e_hrp_int, "#f48f40", 1.0, z=2.6)
fuzz.set_sketch_params(scale=4.0, length=1.0, randomness=2)
line(axE, e_uio_2t, e_uio_int, "#5aaed6", 1.2)
line(axE, e_sim_2t, e_sim_int, "#333333", 1.1)
axE.text(49.9, 83.2, "HRP@UiO-66-NH$_2$", ha="right", va="center", fontsize=12.5, color="#f58a3a")
axE.text(49.9, 48.0, "UiO-66-NH$_2$", ha="right", va="center", fontsize=12.5, color="#2a8fe0")
axE.text(49.9, 16.4, "Simulated UiO-66-NH$_2$", ha="right", va="center", fontsize=12.5, color="#111111")
frame(axE, (5, 50), 10, 5, "2θ/degree", "Intensity(a.u.)", xpad=1)

# ---------------- F ----------------
axF = box(947, 396, 1315, 667)
line(axF, f_uio_wn, f_uio_t, "#5aaed3", 1.6, label="UiO-66-NH$_2$")
line(axF, f_mix_wn, f_mix_t, "#f89c52", 1.6, label="HRP@UiO-66-NH$_2$")
line(axF, f_hrp_wn, f_hrp_t, "#66b824", 1.6, label="HRP")
axF.add_patch(Rectangle((2960, 11.1), 750, 65.3, fill=False, ls=dash, ec="#2bb24c", lw=1.2))
axF.add_patch(Rectangle((430, 12.5), 400, 34.7, fill=False, ls=dash, ec="#a8c8f2", lw=1.2))
axF.vlines(1052, 50.5, 62.2, colors="#a6d6f6", linestyles=dash, lw=1.1)
arrow_kw = dict(arrowstyle="-|>", color="#a6d6f6", lw=1.1, linestyle="--", mutation_scale=8)
for tail, head in [((1672, 16.1), (1998, 13.6)), ((1580, 10.6), (1720, 8.1)), ((1502, 10.0), (1502, 6.3)),
                   ((1385, 9.3), (1068, 6.3)), ((954, 26.9), (1036, 34.6))]:
    axF.annotate("", xy=head, xytext=tail, arrowprops=arrow_kw)
axF.text(2063, 13.6, "1660 cm$^{-1}$", rotation=90, ha="center", va="center", fontsize=9, color="#333333")
axF.text(1786, 11.8, "1560 cm$^{-1}$", rotation=90, ha="center", va="center", fontsize=9, color="#333333")
axF.text(1411, 2.8, "1501 cm$^{-1}$", ha="center", va="center", fontsize=9, color="#333333")
axF.text(791, 5.6, "1390 cm$^{-1}$", ha="center", va="center", fontsize=9, color="#333333")
axF.text(1019, 36.4, "1016 cm$^{-1}$", ha="center", va="center", fontsize=9, color="#333333")
axF.legend(loc="upper left", bbox_to_anchor=(0.47, 1.03), frameon=False, fontsize=12.2, handlelength=1.8,
           labelspacing=0.45, handletextpad=0.3, borderaxespad=0)
frame(axF, (3990, 400), 500, 250, "Wavenumber(cm$^{-1}$)", "Transmittance(%)", xpad=-1)

# ---------------- panel letters ----------------
for letter, x, y in [("A", 25, 27), ("B", 469, 27), ("C", 905, 27), ("D", 24, 395), ("E", 468, 395),
                     ("F", 908, 395)]:
    fig.text(x / W, 1 - y / H, letter, ha="center", va="center", fontsize=23, color="#111111")

fig.savefig("out.png", dpi=100)
